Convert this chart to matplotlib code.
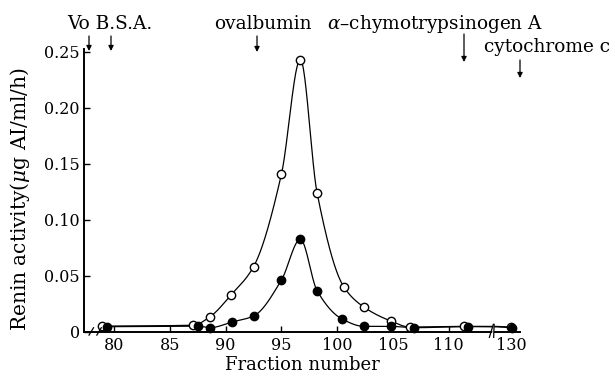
import numpy as np
import matplotlib
matplotlib.use("Agg")
import matplotlib.pyplot as plt
from matplotlib.lines import Line2D
from matplotlib.patches import Polygon, FancyArrowPatch

plt.rcParams['font.family'] = ['DejaVu Serif']
plt.rcParams['mathtext.fontset'] = 'dejavuserif'

# fraction number / renin activity
open_x = [78.9, 87.1, 88.6, 90.5, 92.5, 95.0, 96.7, 98.2, 100.6, 102.4, 104.8, 106.5, 111.4, 129.9]
open_y = [0.005, 0.0058, 0.0134, 0.033, 0.058, 0.1405, 0.243, 0.124, 0.040, 0.022, 0.0096, 0.0042, 0.0048, 0.0042]
filled_x = [79.4, 87.5, 88.6, 90.6, 92.5, 95.0, 96.7, 98.2, 100.4, 102.4, 104.8, 106.9, 111.7, 130.4]
filled_y = [0.0045, 0.005, 0.0036, 0.0087, 0.014, 0.046, 0.0825, 0.0366, 0.0116, 0.0048, 0.0048, 0.0036, 0.0045, 0.0036]

x_ticks = [80, 85, 90, 95, 100, 105, 110, 130]
y_ticks = [0, 0.05, 0.10, 0.15, 0.20, 0.25]
y_ticklabels = ['0', '0.05', '0.10', '0.15', '0.20', '0.25']

# broken x axis: everything past 114 is squeezed
BRK = 114.0
K = 0.1


def fwd(x):
    x = np.asarray(x, dtype=float)
    return np.where(x <= BRK, x, BRK + (x - BRK) * K)


def inv(x):
    x = np.asarray(x, dtype=float)
    return np.where(x <= BRK, x, BRK + (x - BRK) / K)


def pchip(x, y, xs):
    x = np.asarray(x, float)
    y = np.asarray(y, float)
    h = np.diff(x)
    d = np.diff(y) / h
    n = len(x)
    m = np.zeros(n)
    m[0] = d[0]
    m[-1] = d[-1]
    for k in range(1, n - 1):
        if d[k - 1] * d[k] > 0:
            w1 = 2 * h[k] + h[k - 1]
            w2 = h[k] + 2 * h[k - 1]
            m[k] = (w1 + w2) / (w1 / d[k - 1] + w2 / d[k])
    idx = np.clip(np.searchsorted(x, xs) - 1, 0, n - 2)
    t = (xs - x[idx]) / h[idx]
    h00 = 2 * t**3 - 3 * t**2 + 1
    h10 = t**3 - 2 * t**2 + t
    h01 = -2 * t**3 + 3 * t**2
    h11 = t**3 - t**2
    return h00 * y[idx] + h10 * h[idx] * m[idx] + h01 * y[idx + 1] + h11 * h[idx] * m[idx + 1]


fig = plt.figure(figsize=(6.15, 3.76), dpi=100)
ax = fig.add_axes([0.1366, 0.1178, 0.709, 0.7506])
ax.set_xscale('function', functions=(fwd, inv))

for xs_, ys_, face in [(open_x, open_y, 'white'), (filled_x, filled_y, 'black')]:
    xx = np.linspace(xs_[0], xs_[-1], 1500)
    ax.plot(xx, pchip(xs_, ys_, xx), color='black', lw=0.9, zorder=2)
    ax.plot(xs_, ys_, 'o', ms=6, mfc=face, mec='black', mew=1.0, zorder=3, clip_on=False)

ax.set_xlim(77.3, 138)
ax.set_ylim(0, 0.252)
ax.set_xticks(x_ticks)
ax.set_xticklabels([str(v) for v in x_ticks])
ax.set_yticks(y_ticks)
ax.set_yticklabels(y_ticklabels)
ax.tick_params(direction='in', length=4, width=1, labelsize=11.5)
ax.tick_params(axis='x', pad=4)
ax.tick_params(axis='y', pad=3)
ax.spines['top'].set_visible(False)
ax.spines['right'].set_visible(False)
ax.spines['left'].set_linewidth(1.4)
ax.spines['bottom'].set_linewidth(1.4)

ax.set_xlabel('Fraction number', fontsize=13, labelpad=1)
ax.set_ylabel(r'Renin activity($\mu$g AI/ml/h)', fontsize=14.5)
ax.yaxis.set_label_coords(-0.12, 0.47)

# axis break marks (axes fraction in y)
tb = ax.get_xaxis_transform()
for bx, lo, hi in [(78.1, -0.012, 0.014), (BRK, -0.02, 0.026)]:
    if bx == BRK:
        ax.add_patch(Polygon([(bx - 0.15, lo), (bx + 0.55, lo), (bx + 0.75, hi), (bx + 0.05, hi)],
                             closed=True, transform=tb, facecolor='white',
                             edgecolor='none', zorder=4, clip_on=False))
    for dx in (-0.15, 0.55):
        ax.add_line(Line2D([bx + dx - 0.2, bx + dx + 0.2], [lo, hi],
                           transform=tb, color='black', lw=0.9, zorder=5, clip_on=False))

# marker proteins
W, H = 615.0, 376.0
kw = dict(fontsize=13.3, ha='left', va='baseline')
fig.text(67 / W, 1 - 29 / H, 'Vo B.S.A.', **kw)
fig.text(214 / W, 1 - 29 / H, 'ovalbumin', **kw)
fig.text(327 / W, 1 - 29 / H, r'$\alpha$–chymotrypsinogen A', **kw)
fig.text(484 / W, 1 - 52 / H, 'cytochrome c', **kw)

arrows = [(89, 36, 51), (111, 36, 51), (257, 36, 52), (464, 34, 62), (520, 60, 78)]
for px, y0, y1 in arrows:
    fig.add_artist(FancyArrowPatch(
        (px / W, 1 - y0 / H), (px / W, 1 - y1 / H), transform=fig.transFigure,
        arrowstyle='-|>,head_length=3,head_width=1.5', color='black', lw=0.9,
        shrinkA=0, shrinkB=0))

fig.savefig('out.png', dpi=100)
